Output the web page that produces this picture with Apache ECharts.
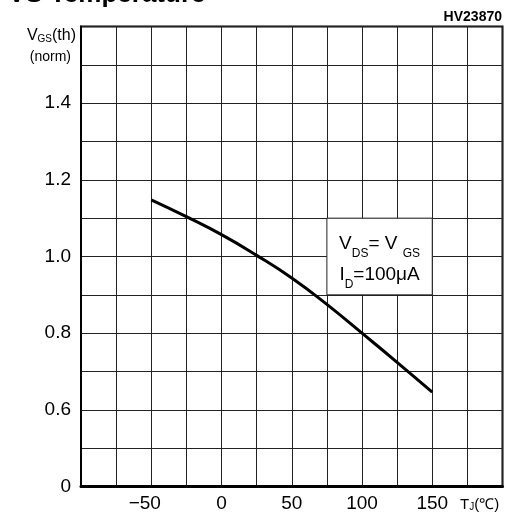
<!DOCTYPE html>
<html>
<head>
<meta charset="utf-8">
<script src="https://cdn.jsdelivr.net/npm/echarts@6/dist/echarts.min.js"></script>
<style>
  html, body { margin: 0; padding: 0; background: #fff; }
  #chart { width: 511px; height: 517px; }
</style>
</head>
<body>
<div id="chart"></div>
<script>
// Junction temperature (°C) and normalized gate threshold voltage
const temperatures = [-50, -25, 0, 25, 50, 75, 100, 125, 150];
const vgsThNorm = [1.148, 1.104, 1.057, 1.003, 0.944, 0.875, 0.800, 0.724, 0.646];

// Tick labels shown on the axes (value -> text)
const xTickLabels = { '-50': '−50', '0': '0', '50': '50', '100': '100', '150': '150' };
const yTickLabels = { '0.4': '0', '0.6': '0.6', '0.8': '0.8', '1.0': '1.0', '1.2': '1.2', '1.4': '1.4' };

// Test condition box: spans these axis values
const condBoxX = [75, 150];
const condBoxY = [0.9, 1.1];

const FONT = '"Liberation Sans", Arial, sans-serif';
const GRID_COLOR = '#222';

const chart = echarts.init(document.getElementById('chart'), null, { renderer: 'canvas' });

chart.setOption({
  animation: false,
  backgroundColor: '#fff',
  grid: {
    left: 81, right: 8.5, top: 26.5, bottom: 30.5,
    outerBoundsMode: 'none',
    show: true,
    borderColor: '#000',
    borderWidth: 2
  },
  xAxis: {
    type: 'value',
    min: -100, max: 200, interval: 25,
    axisLine: { show: true, onZero: false, lineStyle: { color: '#000', width: 3 } },
    axisTick: { show: false },
    splitLine: { show: true, lineStyle: { color: GRID_COLOR, width: 1 } },
    axisLabel: {
      margin: 8,
      color: '#000',
      fontFamily: FONT,
      fontSize: 19,
      formatter: function (v) {
        const t = xTickLabels[String(v)];
        if (t === undefined) return '';
        return v < 0 ? '{neg|' + t + '}' : t;
      },
      rich: {
        neg: { fontFamily: FONT, fontSize: 19, color: '#000', padding: [0, 13, 0, 0] }
      }
    }
  },
  yAxis: {
    type: 'value',
    min: 0.4, max: 1.6, interval: 0.1,
    axisLine: { show: true, onZero: false, lineStyle: { color: '#000', width: 2 } },
    axisTick: { show: false },
    splitLine: { show: true, lineStyle: { color: GRID_COLOR, width: 1 } },
    axisLabel: {
      margin: 10,
      color: '#000',
      fontFamily: FONT,
      fontSize: 19,
      formatter: function (v) {
        const t = yTickLabels[v.toFixed(1)];
        return t === undefined ? '' : t;
      }
    }
  },
  series: [{
    type: 'line',
    data: temperatures.map((t, i) => [t, vgsThNorm[i]]),
    smooth: 0.5,
    symbol: 'none',
    lineStyle: { color: '#000', width: 3 },
    z: 5,
    markArea: {
      silent: true,
      itemStyle: { color: '#fff', borderColor: GRID_COLOR, borderWidth: 1 },
      label: {
        show: true,
        position: 'inside',
        offset: [0, 3],
        color: '#000',
        fontFamily: FONT,
        lineHeight: 31,
        formatter: '{v|V}{s|DS}{v|= V }{s|GS}\n{v|I}{s|D}{v|=100μA}',
        rich: {
          v: { fontFamily: FONT, fontSize: 19, color: '#000', lineHeight: 31 },
          s: { fontFamily: FONT, fontSize: 12, color: '#000', lineHeight: 31, verticalAlign: 'bottom' }
        }
      },
      data: [[
        { coord: [condBoxX[0], condBoxY[1]] },
        { coord: [condBoxX[1], condBoxY[0]] }
      ]]
    }
  }],
  graphic: [
    {
      type: 'text', left: 8, top: -18,
      style: { text: 'VS Temperature', font: 'bold 26px ' + FONT, fill: '#000' }
    },
    {
      type: 'text', right: 9, top: 10,
      style: { text: 'HV23870', font: 'bold 14px ' + FONT, fill: '#000' }
    },
    {
      type: 'text', x: 76, y: 36,
      style: {
        text: '{v|V}{s|GS}{v|(th)}',
        align: 'right', verticalAlign: 'middle',
        rich: {
          v: { fontFamily: FONT, fontSize: 16, fill: '#000' },
          s: { fontFamily: FONT, fontSize: 10, fill: '#000', verticalAlign: 'bottom' }
        }
      }
    },
    {
      type: 'text', x: 71, y: 57,
      style: { text: '(norm)', font: '14px ' + FONT, fill: '#000', align: 'right', verticalAlign: 'middle' }
    },
    {
      type: 'text', x: 460, y: 505,
      style: {
        text: '{v|T}{s|J}{v|(℃)}',
        align: 'left', verticalAlign: 'middle',
        rich: {
          v: { fontFamily: FONT, fontSize: 15, fill: '#000' },
          s: { fontFamily: FONT, fontSize: 10, fill: '#000', verticalAlign: 'bottom' }
        }
      }
    }
  ]
});
</script>
</body>
</html>
